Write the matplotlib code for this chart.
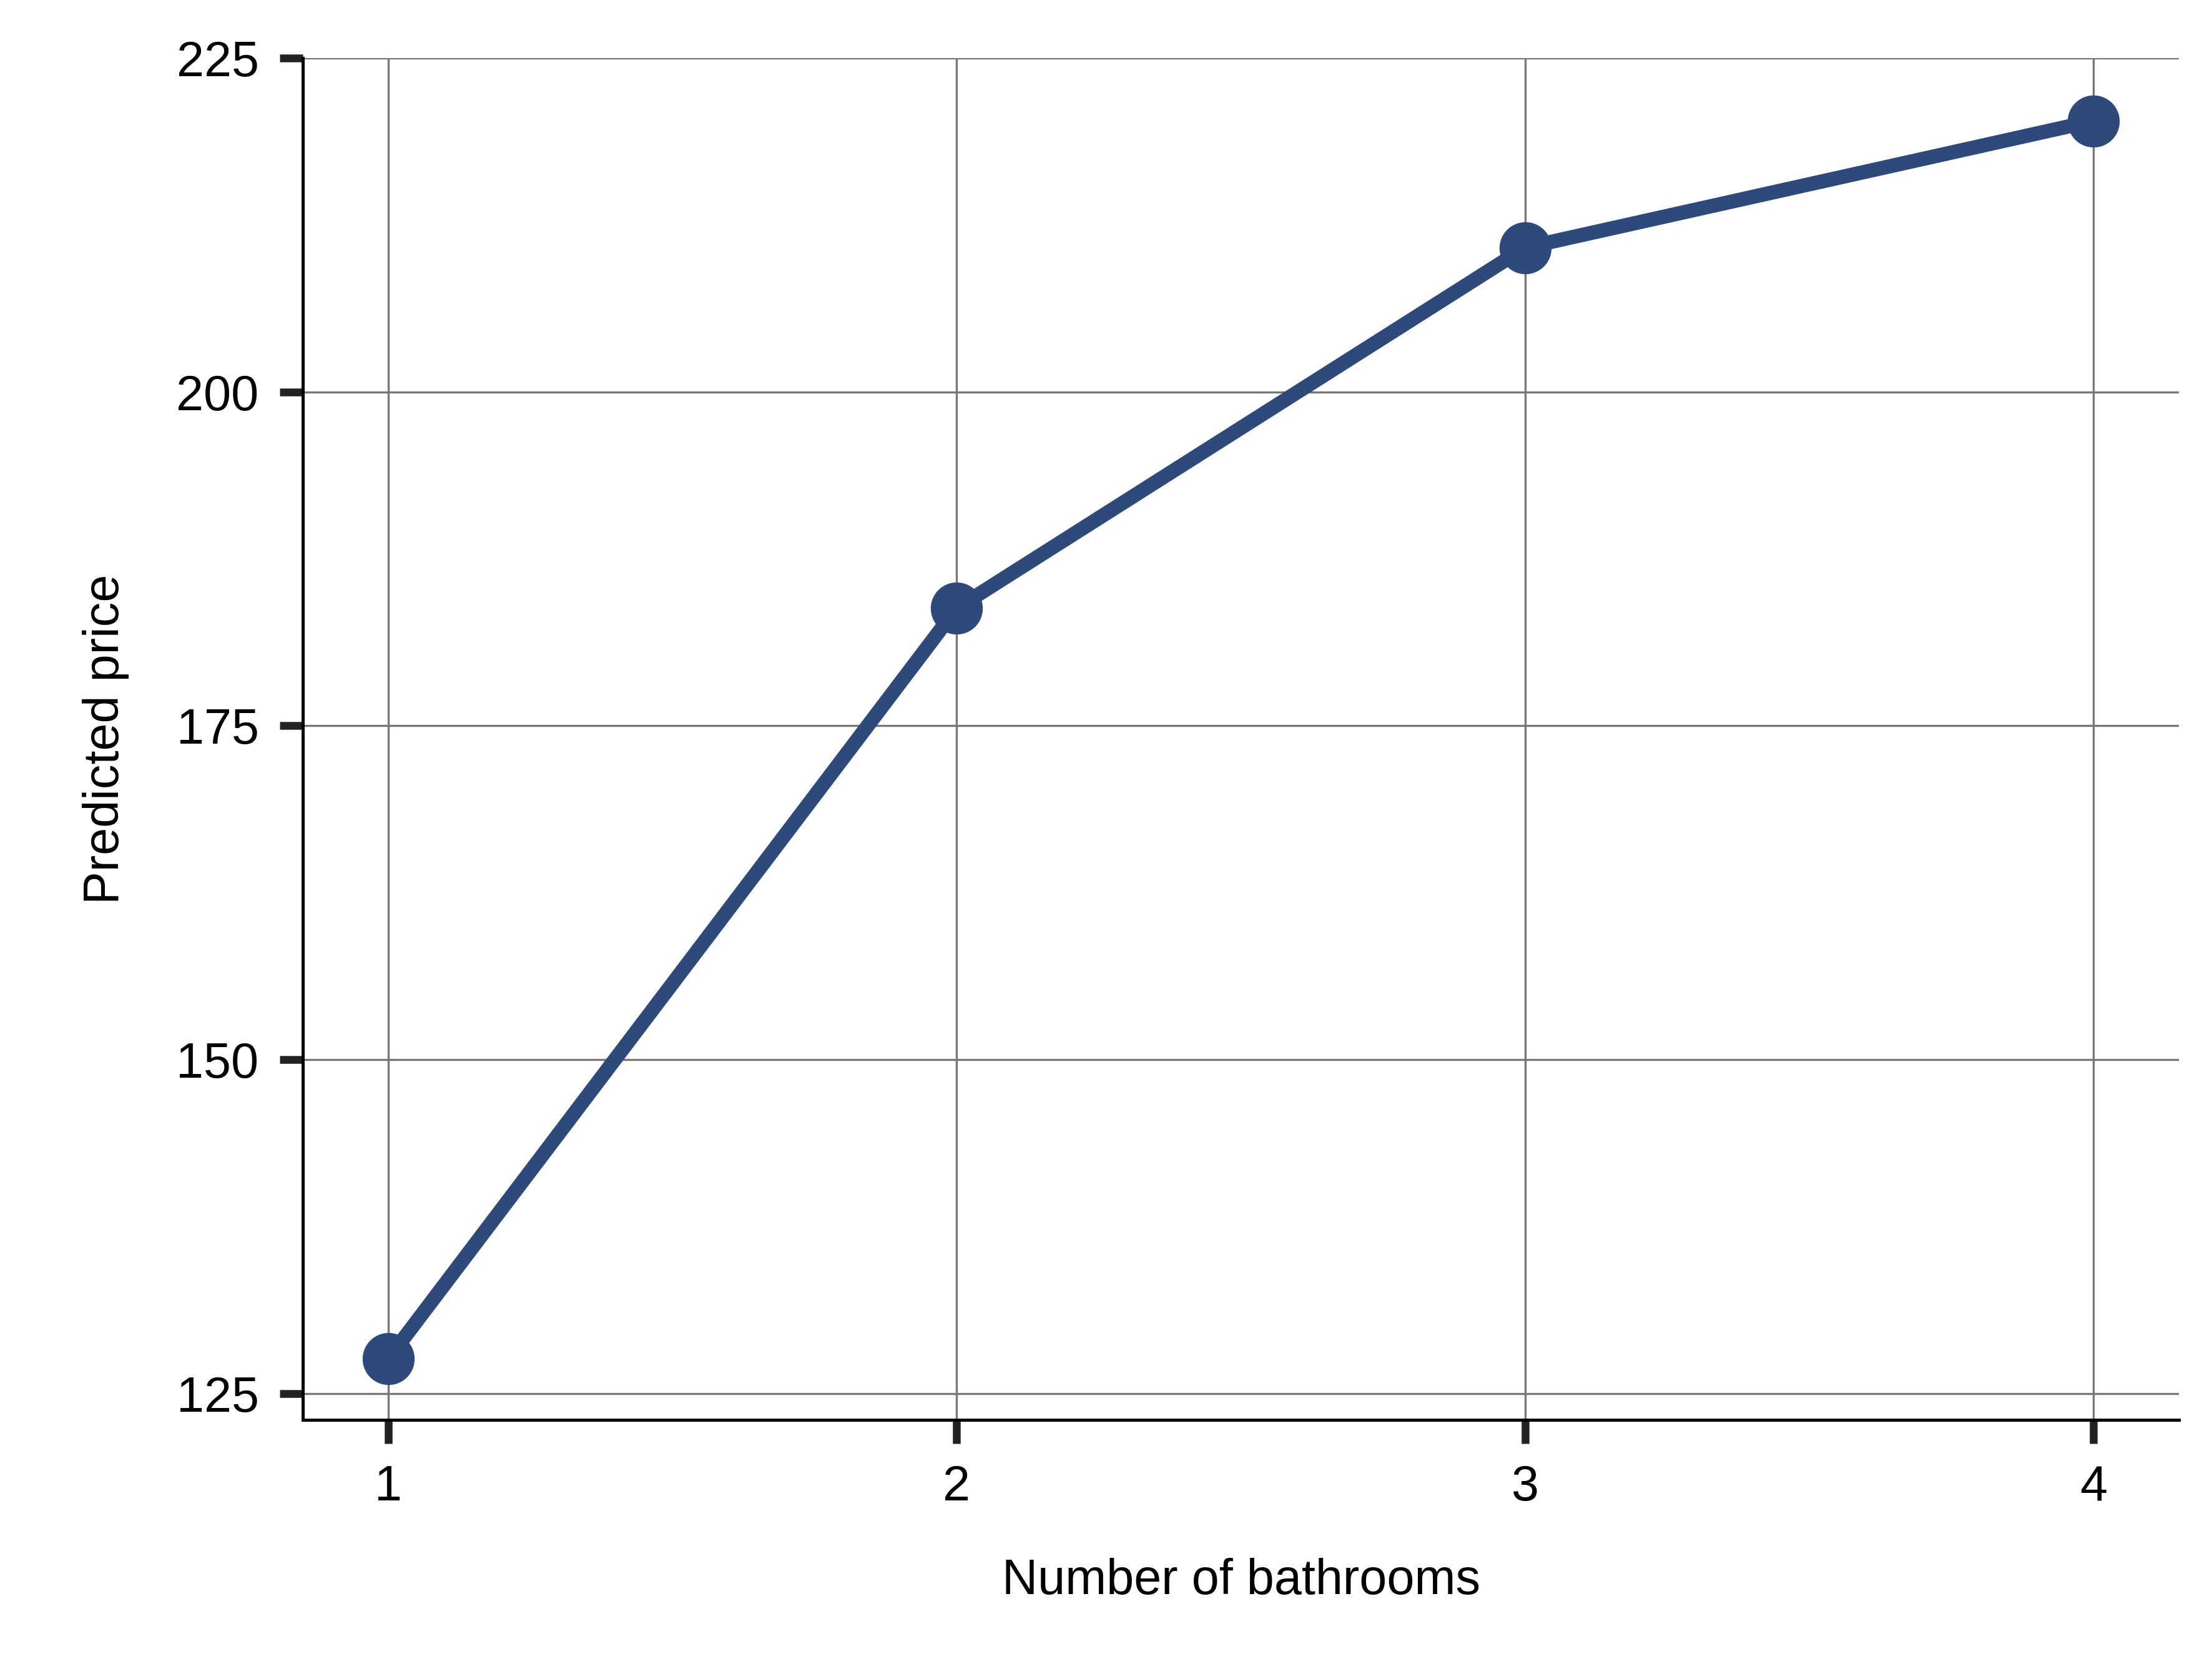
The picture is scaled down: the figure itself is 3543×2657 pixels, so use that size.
import matplotlib
matplotlib.use("Agg")
import matplotlib.pyplot as plt

bathrooms = [1, 2, 3, 4]
price = [127.6, 183.8, 210.8, 220.3]
yticks = [125, 150, 175, 200, 225]

plt.rcParams['font.family'] = ['Liberation Sans', 'DejaVu Sans']
fig = plt.figure(figsize=(3543/300, 2657/300), dpi=300)
ax = fig.add_axes([0.137, 0.144, 0.848, 0.821])
col = '#2e4a7a'
ax.plot(bathrooms, price, color=col, lw=5.5, marker='o', ms=19, zorder=3)
ax.set_xlim(0.85, 4.15)
ax.set_ylim(123.0, 225)
ax.set_xticks(bathrooms)
ax.set_yticks(yticks)
ax.grid(True, color='#777777', lw=0.8)
for s in ['top', 'right']:
    ax.spines[s].set_visible(False)
for s in ['left', 'bottom']:
    ax.spines[s].set_linewidth(1.2)
    ax.spines[s].set_color('black')
ax.tick_params(axis='both', length=9, width=3, color='#222222', labelsize=19, pad=8)
ax.set_xlabel('Number of bathrooms', fontsize=19, labelpad=18)
ax.set_ylabel('Predicted price', fontsize=19, labelpad=18)
fig.savefig('out.png', dpi=300)
